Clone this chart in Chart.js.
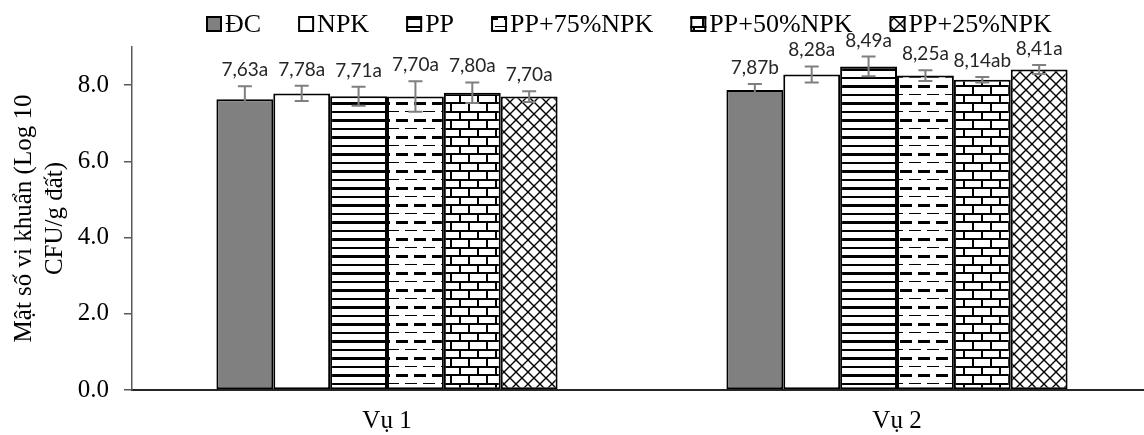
<!DOCTYPE html>
<html lang="vi">
<head>
<meta charset="UTF-8" />
<title>Mật số vi khuẩn</title>
<style>
  body { margin: 0; overflow: hidden; background: #fff; }
  .box { width: 1160px; height: 435px; }
</style>
</head>
<body>
<div class="box"><canvas id="chart"></canvas></div>
<script src="https://cdn.jsdelivr.net/npm/chart.js@4.4.1/dist/chart.umd.min.js"></script>
<script>
const categories = ['Vụ 1', 'Vụ 2'];
const seriesNames = ['ĐC', 'NPK', 'PP', 'PP+75%NPK', 'PP+50%NPK', 'PP+25%NPK'];

const dcValues = [7.63, 7.87];
const npkValues = [7.78, 8.28];
const ppValues = [7.71, 8.49];
const pp75Values = [7.70, 8.25];
const pp50Values = [7.80, 8.14];
const pp25Values = [7.70, 8.41];

const dcErr = [0.34, 0.16];
const npkErr = [0.20, 0.21];
const ppErr = [0.25, 0.26];
const pp75Err = [0.40, 0.14];
const pp50Err = [0.27, 0.07];
const pp25Err = [0.14, 0.12];

const dcLetters = ['a', 'b'];
const npkLetters = ['a', 'a'];
const ppLetters = ['a', 'a'];
const pp75Letters = ['a', 'a'];
const pp50Letters = ['a', 'ab'];
const pp25Letters = ['a', 'a'];

const yTicks = [0, 2, 4, 6, 8];

const SERIF = '"Liberation Serif", "Times New Roman", serif';

// pattern tiles for the hatched bars
const ctx0 = document.getElementById('chart').getContext('2d');
function pat(w, h, draw) {
  const c = document.createElement('canvas');
  c.width = w; c.height = h;
  const g = c.getContext('2d');
  g.fillStyle = '#fff';
  g.fillRect(0, 0, w, h);
  g.fillStyle = '#000';
  g.strokeStyle = '#000';
  draw(g);
  return ctx0.createPattern(c, 'repeat');
}

const horizPat = pat(8, 17, g => {
  g.fillRect(0, 0, 8, 3);
  g.fillRect(0, 9, 8, 2);
});
const dashPat = pat(18, 17, g => {
  g.fillRect(0, 0, 12, 3);
  g.fillRect(9, 9, 9, 1);
  g.fillRect(0, 9, 3, 1);
});
const brickPat = pat(18, 17, g => {
  g.fillRect(0, 0, 18, 2);
  g.fillRect(0, 9, 18, 2);
  g.fillRect(0, 0, 2, 9);
  g.fillRect(9, 9, 2, 8);
});
const crossPat = pat(12, 12, g => {
  g.lineWidth = 1.4;
  g.beginPath();
  g.moveTo(0, 0); g.lineTo(12, 12);
  g.moveTo(12, 0); g.lineTo(0, 12);
  g.moveTo(-1, 11); g.lineTo(1, 13);
  g.moveTo(11, -1); g.lineTo(13, 1);
  g.stroke();
});

const fills = ['#808080', '#ffffff', horizPat, dashPat, brickPat, crossPat];
const allValues = [dcValues, npkValues, ppValues, pp75Values, pp50Values, pp25Values];
const allErr = [dcErr, npkErr, ppErr, pp75Err, pp50Err, pp25Err];
const allLetters = [dcLetters, npkLetters, ppLetters, pp75Letters, pp50Letters, pp25Letters];

const datasets = seriesNames.map((name, i) => ({
  label: name,
  data: allValues[i],
  errors: allErr[i],
  letters: allLetters[i],
  backgroundColor: fills[i],
  borderColor: '#000',
  borderWidth: 2,
  borderSkipped: false,
  categoryPercentage: 0.669,
  barPercentage: 1.0
}));

// error bars + value labels
const errorBars = {
  id: 'errorBars',
  afterDatasetsDraw(chart) {
    const { ctx, scales: { y } } = chart;
    ctx.save();
    chart.data.datasets.forEach((ds, i) => {
      const meta = chart.getDatasetMeta(i);
      meta.data.forEach((bar, j) => {
        const v = ds.data[j], e = ds.errors[j];
        const yt = y.getPixelForValue(v + e);
        const yb = y.getPixelForValue(v - e);
        ctx.strokeStyle = '#7f7f7f';
        ctx.lineWidth = 2;
        ctx.beginPath();
        ctx.moveTo(bar.x, yt); ctx.lineTo(bar.x, yb);
        ctx.moveTo(bar.x - 7, yt); ctx.lineTo(bar.x + 7, yt);
        ctx.moveTo(bar.x - 7, yb); ctx.lineTo(bar.x + 7, yb);
        ctx.stroke();
        ctx.fillStyle = '#262626';
        ctx.font = '19px Lato, "Noto Sans", sans-serif';
        ctx.textAlign = 'center';
        ctx.textBaseline = 'alphabetic';
        const txt = v.toFixed(2).replace('.', ',') + ds.letters[j];
        ctx.fillText(txt, bar.x, yt - 10);
      });
    });
    ctx.restore();
  }
};

// legend drawn along the top
const topLegend = {
  id: 'topLegend',
  afterDraw(chart) {
    const { ctx } = chart;
    ctx.save();
    ctx.font = '26px ' + SERIF;
    ctx.textBaseline = 'middle';
    ctx.textAlign = 'left';
    let x = 206;
    const yc = 24;
    chart.data.datasets.forEach(ds => {
      ctx.fillStyle = ds.backgroundColor;
      ctx.fillRect(x, yc - 8, 16, 16);
      ctx.strokeStyle = '#000';
      ctx.lineWidth = 2;
      ctx.strokeRect(x + 1, yc - 7, 14, 14);
      ctx.fillStyle = '#000';
      ctx.fillText(ds.label, x + 19, yc + 1);
      x += 19 + ctx.measureText(ds.label).width + 37;
    });
    ctx.restore();
  }
};

Chart.defaults.color = '#000';

new Chart(document.getElementById('chart'), {
  type: 'bar',
  data: { labels: categories, datasets: datasets },
  options: {
    responsive: true,
    maintainAspectRatio: false,
    animation: false,
    layout: { padding: { top: 47, right: 8, left: 0, bottom: 0 } },
    plugins: {
      legend: { display: false },
      tooltip: { enabled: false }
    },
    scales: {
      x: {
        grid: { display: false, drawTicks: false },
        border: { display: true, color: '#262626', width: 2 },
        ticks: { font: { family: SERIF, size: 25 }, padding: 16 },
        afterFit(s) { s.height = 45; }
      },
      y: {
        min: 0,
        max: 9,
        grid: { drawOnChartArea: false, drawTicks: true, tickLength: 8, color: '#595959', lineWidth: 1.5 },
        border: { display: true, color: '#595959', width: 1.5 },
        ticks: {
          stepSize: 2,
          includeBounds: false,
          padding: 15,
          font: { family: SERIF, size: 25 },
          callback: v => (yTicks.includes(v) ? v.toFixed(1) : '')
        },
        title: {
          display: true,
          text: ['Mật số vi khuẩn (Log 10', 'CFU/g đất)'],
          font: { family: SERIF, size: 25, lineHeight: 1.25 },
          padding: { top: 9, bottom: 0 }
        },
        afterFit(s) { s.width = 132; }
      }
    }
  },
  plugins: [errorBars, topLegend]
});
</script>
</body>
</html>
